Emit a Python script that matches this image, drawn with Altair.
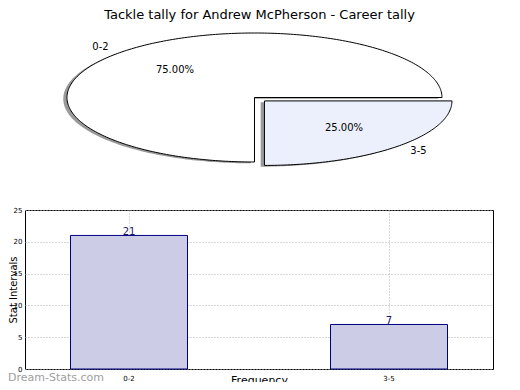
import math
import altair as alt
import pandas as pd

# ---- data ----
title_text = "Tackle tally for Andrew McPherson - Career tally"
categories = ["0-2", "3-5"]
frequencies = [21, 7]
y_ticks = [0, 5, 10, 15, 20, 25]

# ---- styles ----
slice_fills = ["#ffffff", "#ebf0fc"]
explode = [0.0, 0.075]
shadow_off = (-0.02, -0.02)
FONT = "DejaVu Sans"

# ---- pie geometry derived from the data (unit ellipse, scaled by Vega-Lite) ----
total = float(sum(frequencies))
poly_rows, label_rows = [], []
start = 0.0
for cat, val, ex in zip(categories, frequencies, explode):
    frac = val / total
    a0, a1 = start, start + frac * 360.0
    mid = math.radians((a0 + a1) / 2.0)
    cx, cy = ex * math.cos(mid), ex * math.sin(mid)
    pts = [(cx, cy)]
    n = max(2, int(round(a1 - a0)))
    for k in range(n + 1):
        t = math.radians(a0 + (a1 - a0) * k / n)
        pts.append((cx + math.cos(t), cy + math.sin(t)))
    for i, (px, py) in enumerate(pts):
        poly_rows.append(dict(slice=cat, idx=i, x=px, y=py,
                              sx=px + shadow_off[0], sy=py + shadow_off[1]))
    label_rows.append(dict(text=cat, x=cx + 1.1 * math.cos(mid), y=cy + 1.1 * math.sin(mid),
                           ha="right" if math.cos(mid) < 0 else "left"))
    label_rows.append(dict(text=f"{frac * 100:.2f}%", x=cx + 0.6 * math.cos(mid),
                           y=cy + 0.6 * math.sin(mid), ha="center"))
    start = a1

poly_df = pd.DataFrame(poly_rows)
lab_df = pd.DataFrame(label_rows)
bar_df = pd.DataFrame({"cat": categories, "freq": frequencies})

# pixel ranges relative to the bar plot area origin
px_scale = alt.Scale(domain=[-1, 1], range=[42, 417], nice=False, zero=False)
py_scale = alt.Scale(domain=[-1, 1], range=[-48, -177], nice=False, zero=False)

shadow = alt.Chart(poly_df).mark_line(
    interpolate="linear-closed", fill="#9a9a9a", strokeWidth=0
).encode(
    x=alt.X("sx:Q", scale=px_scale, axis=None),
    y=alt.Y("sy:Q", scale=py_scale, axis=None),
    detail="slice:N",
    order="idx:Q",
)

slices = alt.Chart(poly_df).mark_line(
    interpolate="linear-closed", stroke="black", strokeWidth=1
).encode(
    x=alt.X("x:Q", scale=px_scale, axis=None),
    y=alt.Y("y:Q", scale=py_scale, axis=None),
    fill=alt.Fill("slice:N", scale=alt.Scale(domain=categories, range=slice_fills), legend=None),
    detail="slice:N",
    order="idx:Q",
)


def pie_text(ha):
    return alt.Chart(lab_df).transform_filter(alt.datum.ha == ha).mark_text(
        align=ha, baseline="middle", fontSize=10, font=FONT, color="black"
    ).encode(
        x=alt.X("x:Q", scale=px_scale, axis=None),
        y=alt.Y("y:Q", scale=py_scale, axis=None),
        text="text:N",
    )


title = alt.Chart(pd.DataFrame({"t": [title_text]})).mark_text(
    align="center", baseline="alphabetic", fontSize=13, font=FONT, color="black"
).encode(x=alt.value(234.5), y=alt.value(-191.5), text="t:N")

watermark = alt.Chart(pd.DataFrame({"t": ["Dream-Stats.com"]})).mark_text(
    align="left", baseline="alphabetic", fontSize=11, font=FONT, color="#9e9e9e"
).encode(x=alt.value(-17), y=alt.value(171), text="t:N")

pie = alt.layer(shadow, slices, pie_text("left"), pie_text("right"), pie_text("center"),
                title, watermark)

grid_style = dict(grid=True, gridColor="#b0b0b0", gridDash=[1, 2], gridWidth=1)

xb = alt.X(
    "cat:N", sort=categories,
    scale=alt.Scale(paddingInner=0.55, paddingOuter=0.175),
    axis=alt.Axis(title="Frequency", orient="bottom", labelAngle=0, bandPosition=0.5,
                  ticks=False, domain=False, labelFontSize=7, labelPadding=5,
                  titleFontSize=11, titleFontWeight="normal", titleBaseline="top",
                  titleY=5, **grid_style),
)
yb = alt.Y(
    "freq:Q", scale=alt.Scale(domain=[0, 25], nice=False),
    axis=alt.Axis(title="Stat Intervals", orient="left", values=y_ticks, ticks=False,
                  domain=False, labelFontSize=7, labelPadding=3, titleFontSize=10,
                  titleFontWeight="normal", titleAngle=270, titleBaseline="top",
                  titleX=-17, labelOverlap=False, **grid_style),
)

base = alt.Chart(bar_df).encode(x=xb, y=yb)
bars = base.mark_bar(fill="#ccccE6", stroke="#000080", strokeWidth=1)
bar_text = base.mark_text(baseline="alphabetic", fontSize=10, font=FONT,
                          color="#1a1a6e").encode(text="freq:Q")

bar_layer = alt.layer(bars, bar_text)

chart = alt.layer(bar_layer, pie).resolve_scale(
    x="independent", y="independent"
).properties(
    width=468, height=159,
    autosize=alt.AutoSizeParams(type="none"),
    padding={"left": 17, "top": 202, "right": 19, "bottom": 13},
).configure(font=FONT).configure_axis(
    labelFont=FONT, titleFont=FONT, labelColor="black", titleColor="black"
).configure_view(stroke="black", strokeWidth=1)

chart.save("out.html", embed_options={"renderer": "svg", "actions": False})
